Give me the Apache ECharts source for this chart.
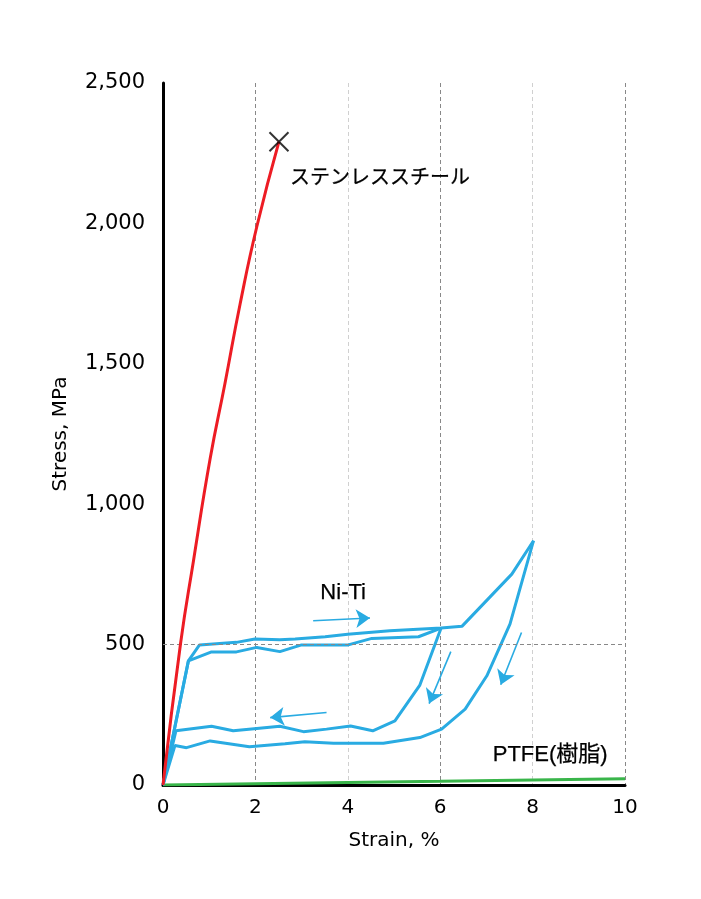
<!DOCTYPE html>
<html>
<head>
<meta charset="utf-8">
<script src="https://cdn.jsdelivr.net/npm/echarts@6/dist/echarts.min.js"></script>
<style>
html,body{margin:0;padding:0;background:#fff;}
#c{width:701px;height:899px;}
</style>
</head>
<body>
<div id="c"></div>
<script>
// ---- data ----
const xTicks = [0, 2, 4, 6, 8, 10];
const yTicks = [0, 500, 1000, 1500, 2000, 2500];

const steelStrain = [0, 0.38, 0.66, 1.02, 1.34, 1.67, 2.03, 2.51];
const steelStress = [0, 504, 799, 1162, 1429, 1714, 1988, 2291];
const steelBreak = [2.51, 2291];

const nitiLoadUpperStrain = [0, 0.55, 0.79, 1.59, 1.99, 2.53, 2.86, 3.51, 4.0, 4.91, 6.02, 6.47, 7.55, 8.02];
const nitiLoadUpperStress = [0, 442, 499, 508, 520, 517, 520, 528, 537, 549, 559, 565, 751, 870];

const nitiLoadLowerStrain = [0, 0.55, 1.05, 1.59, 2.03, 2.53, 3.0, 4.01, 4.52, 5.53, 6.02];
const nitiLoadLowerStress = [0, 442, 474, 474, 490, 475, 499, 499, 522, 528, 559];

const nitiUnload6Strain = [6.02, 5.56, 5.02, 4.54, 4.06, 3.54, 3.04, 2.53, 2.03, 1.52, 1.05, 0.28, 0];
const nitiUnload6Stress = [559, 356, 228, 193, 210, 199, 190, 209, 201, 193, 209, 193, 0];

const nitiUnload8Strain = [8.02, 7.51, 7.01, 6.54, 6.03, 5.56, 4.77, 3.69, 3.07, 2.64, 1.87, 1.02, 0.51, 0.26, 0];
const nitiUnload8Stress = [870, 573, 389, 270, 199, 169, 149, 149, 154, 147, 136, 157, 133, 141, 0];

const ptfeStrain = [0, 6, 10];
const ptfeStress = [0, 13, 22];

const arrowFrom = [[3.25, 585], [3.54, 258], [6.23, 475], [7.76, 543]];
const arrowTo   = [[4.48, 595], [2.32, 240], [5.76, 290], [7.31, 357]];

const labelTexts = ['ステンレススチール', 'Ni-Ti', 'PTFE(樹脂)'];
const labelPos = [[2.75, 2168], [3.90, 685], [8.38, 107]];

const refLineStress = 500;

// ---- build ----
const zip = (xs, ys) => xs.map((x, i) => [x, ys[i]]);
const RED = '#ed1c24', BLUE = '#29abe2', GREEN = '#39b54a';

const blueLine = (name, xs, ys) => ({
  name, type: 'line', data: zip(xs, ys), showSymbol: false, symbol: 'none',
  lineStyle: { color: BLUE, width: 3 }, z: 3, silent: true
});

const chart = echarts.init(document.getElementById('c'), null, { renderer: 'canvas' });
chart.setOption({
  animation: false,
  backgroundColor: '#fff',
  grid: { left: 163, right: 76, top: 83, bottom: 114, containLabel: false },
  xAxis: {
    type: 'value', min: xTicks[0], max: xTicks[xTicks.length - 1], interval: 2,
    name: 'Strain, %', nameLocation: 'middle', nameGap: 46,
    nameTextStyle: { color: '#000', fontSize: 20, fontFamily: 'DejaVu Sans' },
    axisLine: { show: true, lineStyle: { color: '#000', width: 3 } },
    axisTick: { show: false },
    axisLabel: { color: '#000', fontSize: 20, fontFamily: 'DejaVu Sans', margin: 13 },
    splitLine: { show: true, lineStyle: { type: [4, 3], width: 1,
      color: ['#888', '#888', '#d0d0d0', '#888', '#d0d0d0', '#888'] } }
  },
  yAxis: {
    type: 'value', min: yTicks[0], max: yTicks[yTicks.length - 1], interval: 500,
    name: 'Stress, MPa', nameLocation: 'middle', nameGap: 92, nameRotate: 90,
    nameTextStyle: { color: '#000', fontSize: 20, fontFamily: 'DejaVu Sans' },
    axisLine: { show: true, lineStyle: { color: '#000', width: 3 } },
    axisTick: { show: false },
    axisLabel: { color: '#000', fontSize: 21, fontFamily: 'DejaVu Sans', margin: 18,
      formatter: v => v.toLocaleString('en-US') },
    splitLine: { show: false }
  },
  series: [
    {
      name: 'PTFE', type: 'line', data: zip(ptfeStrain, ptfeStress), symbol: 'none',
      lineStyle: { color: GREEN, width: 3 }, z: 2, silent: true,
      markLine: {
        silent: true, symbol: 'none', label: { show: false },
        lineStyle: { color: '#888', type: [4, 3], width: 1 },
        data: [{ yAxis: refLineStress }]
      }
    },
    blueLine('NiTi load upper', nitiLoadUpperStrain, nitiLoadUpperStress),
    blueLine('NiTi load lower', nitiLoadLowerStrain, nitiLoadLowerStress),
    blueLine('NiTi unload 6', nitiUnload6Strain, nitiUnload6Stress),
    blueLine('NiTi unload 8', nitiUnload8Strain, nitiUnload8Stress),
    {
      name: 'arrows', type: 'lines', coordinateSystem: 'cartesian2d',
      symbol: ['none', 'arrow'], symbolSize: 14,
      lineStyle: { color: BLUE, width: 1.6, opacity: 1 },
      data: arrowFrom.map((p, i) => ({ coords: [p, arrowTo[i]] })), z: 4, silent: true
    },
    {
      name: 'Stainless', type: 'line', data: zip(steelStrain, steelStress), symbol: 'none',
      smooth: 0.5, lineStyle: { color: RED, width: 3 }, z: 5, silent: true
    },
    {
      name: 'break', type: 'scatter', data: [steelBreak],
      symbol: 'path://M0,0L10,10M10,0L0,10', symbolSize: 19,
      itemStyle: { color: 'none', borderColor: '#000', borderWidth: 2 }, z: 6, silent: true
    },
    {
      name: 'labels', type: 'scatter', symbolSize: 0, silent: true, z: 7,
      itemStyle: { opacity: 1 },
      data: labelPos.map((p, i) => ({
        value: p, name: labelTexts[i],
        label: {
          show: true, formatter: labelTexts[i],
          position: i === 0 ? 'right' : 'inside', distance: 0,
          fontSize: i === 0 ? 20 : 22, color: '#000',
          textBorderColor: '#000', textBorderWidth: 0.25,
          fontFamily: i === 0 ? 'Noto Sans CJK JP' : 'Liberation Sans, Noto Sans CJK JP'
        }
      }))
    }
  ]
});
</script>
</body>
</html>
